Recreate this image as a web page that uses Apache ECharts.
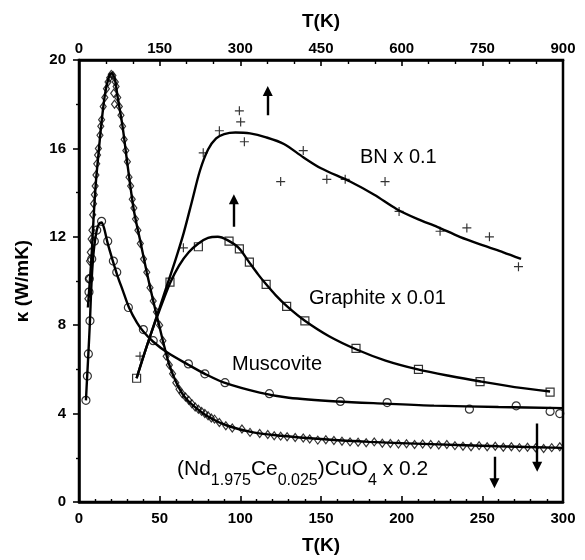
<!DOCTYPE html>
<html>
<head>
<meta charset="utf-8">
<script src="https://cdn.jsdelivr.net/npm/echarts@6/dist/echarts.min.js"></script>
<style>
  html, body { margin: 0; background: #fff; }
  #chart { width: 585px; height: 560px; }
</style>
</head>
<body>
<div id="chart"></div>
<script>
// values, [T (K), kappa (W/mK)]
const ndPoints = [
  [5.5, 9.2], [6, 10.1], [6.5, 10.9], [7, 11.3], [7.5, 11.9], [8, 12.3], [8.5, 13.0], [9, 13.5],
  [9.5, 13.9], [10, 14.3], [10.5, 14.8], [11, 15.3], [11.5, 15.7], [12, 16.0], [13, 16.6],
  [13.5, 17.0], [14, 17.3], [15, 17.9], [16, 18.3], [17, 18.7], [18, 19.0], [19, 19.2],
  [20, 19.35], [21, 19.3], [21.5, 18.5], [22, 18.0], [22.5, 19.0], [23, 18.8], [24, 18.3],
  [25, 17.9], [26, 17.5], [27, 17.0], [28, 16.4], [29, 15.9], [30, 15.4], [31, 14.7], [32, 14.3],
  [33, 13.7], [34, 13.3], [35, 12.8], [36.5, 12.3], [38, 11.7], [40, 11.0], [42, 10.4], [44, 9.7],
  [46, 9.1], [48, 8.6], [50, 8.0], [52, 7.3], [54, 6.6], [56, 6.2], [58, 5.8], [60, 5.4],
  [62, 5.1], [64, 4.9], [66, 4.75], [68, 4.6], [70, 4.45], [72, 4.3], [74, 4.2], [76, 4.1],
  [78, 4.0], [80, 3.9], [82, 3.8], [84, 3.75], [87, 3.6], [91, 3.45], [95, 3.35], [101, 3.3],
  [106, 3.15], [112, 3.1], [117, 3.05], [121, 3.0], [125, 2.98], [129, 2.95], [134, 2.92],
  [139, 2.9], [143, 2.85], [148, 2.8], [153, 2.82], [158, 2.78], [163, 2.75], [168, 2.72],
  [173, 2.7], [178, 2.68], [183, 2.72], [188, 2.66], [193, 2.65], [198, 2.62], [203, 2.64],
  [208, 2.6], [213, 2.62], [218, 2.6], [223, 2.58], [228, 2.6], [233, 2.55], [238, 2.52],
  [243, 2.5], [248, 2.55], [253, 2.5], [258, 2.52], [263, 2.48], [268, 2.5], [273, 2.46],
  [278, 2.48], [283, 2.45], [288, 2.42], [293, 2.46], [298, 2.5]
];
const ndCurve = [
  [5.5, 8.8], [7, 10.3], [8, 11.4], [9, 12.8], [10.5, 14.5], [12, 15.7], [14, 17.2], [16, 18.4],
  [18, 19.1], [20, 19.4], [22, 19.2], [24, 18.3], [27, 17.0], [30, 15.3], [34, 13.2], [38, 11.8],
  [42, 10.4], [46, 9.1], [50, 7.9], [53, 7.0], [56, 6.2], [60, 5.45], [65, 4.8], [71, 4.35],
  [81, 3.82], [92, 3.45], [108, 3.15], [125, 3.0], [150, 2.85], [180, 2.72], [218, 2.62],
  [260, 2.52], [300, 2.45]
];
const muscovitePoints = [
  [4.3, 4.6], [5.2, 5.7], [5.8, 6.7], [6.8, 8.2], [6.2, 9.5], [6.4, 10.1], [7.9, 11.0],
  [9.5, 11.8], [11, 12.3], [14, 12.7], [17.8, 11.8], [21.3, 10.9], [23.4, 10.4], [30.6, 8.8],
  [39.9, 7.8], [46, 7.3], [67.8, 6.25], [78, 5.8], [90.5, 5.4], [118, 4.9], [162, 4.55],
  [191, 4.5], [242, 4.2], [271, 4.35], [292, 4.1], [298, 4.0]
];
const muscoviteCurve = [
  [4.3, 4.6], [5, 5.6], [5.8, 6.7], [6.8, 8.2], [7.5, 9.5], [8.3, 10.6], [9.5, 11.6], [11, 12.3],
  [12.5, 12.6], [14, 12.65], [15.5, 12.4], [17.8, 11.7], [21, 10.9], [24, 10.2], [27, 9.6],
  [31, 8.8], [36, 8.1], [40, 7.7], [46, 7.25], [55, 6.75], [68, 6.2], [78, 5.8], [90, 5.4],
  [112, 4.95], [130, 4.72], [160, 4.55], [190, 4.45], [220, 4.36], [260, 4.3], [300, 4.25]
];
const graphitePoints = [
  [35.7, 5.6], [56.4, 9.95], [74, 11.55], [93, 11.8], [99.4, 11.45], [105.6, 10.85], [116, 9.85],
  [128.7, 8.85], [140, 8.2], [171.7, 6.95], [210.4, 6.0], [248.6, 5.45], [292, 4.97]
];
const graphiteCurve = [
  [35.7, 5.6], [40, 6.6], [45, 7.7], [50, 8.7], [56.4, 9.9], [62, 10.7], [68, 11.3], [74, 11.7],
  [80, 11.95], [86, 12.0], [92, 11.85], [99, 11.5], [105, 10.9], [111, 10.3], [116, 9.85],
  [122, 9.35], [129, 8.85], [140, 8.2], [155, 7.5], [172, 6.9], [190, 6.4], [210, 6.0],
  [230, 5.7], [249, 5.45], [270, 5.2], [292, 5.0]
];
const bnPoints = [
  [37.8, 6.6], [64.7, 11.5], [77, 15.8], [87, 16.8], [99.4, 17.7], [100.2, 17.2], [102.5, 16.3],
  [125, 14.5], [139, 15.9], [153.6, 14.6], [165, 14.6], [189.7, 14.5], [198.4, 13.15],
  [223.8, 12.25], [240.4, 12.4], [254.4, 12.0], [272.4, 10.65]
];
const bnCurve = [
  [35.7, 5.6], [40, 6.6], [45, 7.7], [50, 8.8], [55, 9.9], [60, 11.0], [65, 12.2], [70, 13.6],
  [75, 15.0], [80, 15.95], [85, 16.45], [90, 16.65], [97, 16.72], [106, 16.68], [116, 16.5],
  [127, 16.2], [139, 15.6], [150, 15.1], [168, 14.5], [183, 13.9], [197, 13.25], [210, 12.8],
  [222, 12.45], [236, 12.0], [251, 11.6], [263, 11.3], [274, 11.0]
];
// arrows: x position, tail and head of each
const arrowX = [117, 96, 284, 257.5];
const arrowFrom = [17.5, 12.45, 3.55, 2.05];
const arrowTo = [18.6, 13.7, 1.6, 0.85];

const FONT = 'Liberation Sans, Arial, Helvetica, sans-serif';
const chart = echarts.init(document.getElementById('chart'), null, { renderer: 'canvas' });

const curve = (data) => ({
  type: 'line', data, smooth: 0.3, showSymbol: false, silent: true, z: 2,
  lineStyle: { color: '#000', width: 2.4 }
});
const marks = (data, symbol, size) => ({
  type: 'scatter', data, symbol, symbolSize: size, silent: true, z: 3,
  itemStyle: { color: 'rgba(0,0,0,0)', borderColor: '#000', borderWidth: 1.2 }
});
const plusSymbol = 'path://M4,0h1.2v9.2h-1.2zM0,4h9.2v1.2h-9.2z';

chart.setOption({
  animation: false,
  backgroundColor: '#fff',
  grid: { left: 79, right: 22, top: 60, bottom: 55, show: true, borderColor: '#000', borderWidth: 2.5 },
  xAxis: [
    {
      type: 'value', position: 'bottom', min: 0, max: 300, interval: 50,
      name: 'T(K)', nameLocation: 'middle', nameGap: 34,
      nameTextStyle: { fontFamily: FONT, fontSize: 19, fontWeight: 'bold', color: '#000' },
      axisLine: { lineStyle: { color: '#000', width: 2.5 } },
      axisTick: { inside: true, length: 6, lineStyle: { color: '#000', width: 1.6 } },
      minorTick: { show: true, splitNumber: 5, length: 3, lineStyle: { color: '#000', width: 1.4 } },
      axisLabel: { fontFamily: FONT, fontSize: 15, fontWeight: 'bold', color: '#000', margin: 9 },
      splitLine: { show: false }
    },
    {
      type: 'value', position: 'top', min: 0, max: 900, interval: 150,
      name: 'T(K)', nameLocation: 'middle', nameGap: 29,
      nameTextStyle: { fontFamily: FONT, fontSize: 19, fontWeight: 'bold', color: '#000' },
      axisLine: { lineStyle: { color: '#000', width: 2.5 } },
      axisTick: { inside: true, length: 6, lineStyle: { color: '#000', width: 1.6 } },
      minorTick: { show: true, splitNumber: 3, length: 4, lineStyle: { color: '#000', width: 1.4 } },
      axisLabel: { fontFamily: FONT, fontSize: 15, fontWeight: 'bold', color: '#000', margin: 4 },
      splitLine: { show: false }
    }
  ],
  yAxis: {
    type: 'value', min: 0, max: 20, interval: 4,
    name: 'κ (W/mK)', nameLocation: 'middle', nameGap: 47, nameRotate: 90,
    nameTextStyle: { fontFamily: FONT, fontSize: 19, fontWeight: 'bold', color: '#000' },
    axisLine: { lineStyle: { color: '#000', width: 2.5 } },
    axisTick: { inside: false, length: 6, lineStyle: { color: '#000', width: 1.6 } },
    minorTick: { show: true, splitNumber: 2, length: 3, lineStyle: { color: '#000', width: 1.4 } },
    axisLabel: { fontFamily: FONT, fontSize: 15, fontWeight: 'bold', color: '#000', margin: 13 },
    splitLine: { show: false }
  },
  series: [
    curve(ndCurve), curve(muscoviteCurve), curve(graphiteCurve), curve(bnCurve),
    marks(ndPoints, 'diamond', [6, 8]),
    marks(muscovitePoints, 'circle', 8),
    marks(graphitePoints, 'rect', 8),
    {
      type: 'scatter', data: bnPoints, symbol: plusSymbol, symbolSize: 9, silent: true, z: 3,
      itemStyle: { color: '#000' }
    },
    {
      type: 'lines', coordinateSystem: 'cartesian2d', silent: true, z: 4,
      symbol: ['none', 'triangle'], symbolSize: 10,
      lineStyle: { color: '#000', width: 2.4, opacity: 1, curveness: 0 },
      data: arrowX.map((x, i) => ({ coords: [[x, arrowFrom[i]], [x, arrowTo[i]]] }))
    }
  ],
  graphic: [
    { type: 'text', x: 360, y: 157, style: { text: 'BN x 0.1', font: '20px ' + FONT, fill: '#000', verticalAlign: 'middle' } },
    { type: 'text', x: 309, y: 298, style: { text: 'Graphite x 0.01', font: '20px ' + FONT, fill: '#000', verticalAlign: 'middle' } },
    { type: 'text', x: 232, y: 364, style: { text: 'Muscovite', font: '20px ' + FONT, fill: '#000', verticalAlign: 'middle' } },
    {
      type: 'text', x: 177, y: 459,
      style: {
        text: '{m|(Nd}{s|1.975}{m|Ce}{s|0.025}{m|)CuO}{s|4}{m| x 0.2}',
        fill: '#000',
        rich: {
          m: { fontFamily: FONT, fontSize: 21, lineHeight: 22, verticalAlign: 'top', color: '#000' },
          s: { fontFamily: FONT, fontSize: 16, lineHeight: 14, padding: [14, 0, 0, 0], verticalAlign: 'top', color: '#000' }
        }
      }
    }
  ]
});
</script>
</body>
</html>
